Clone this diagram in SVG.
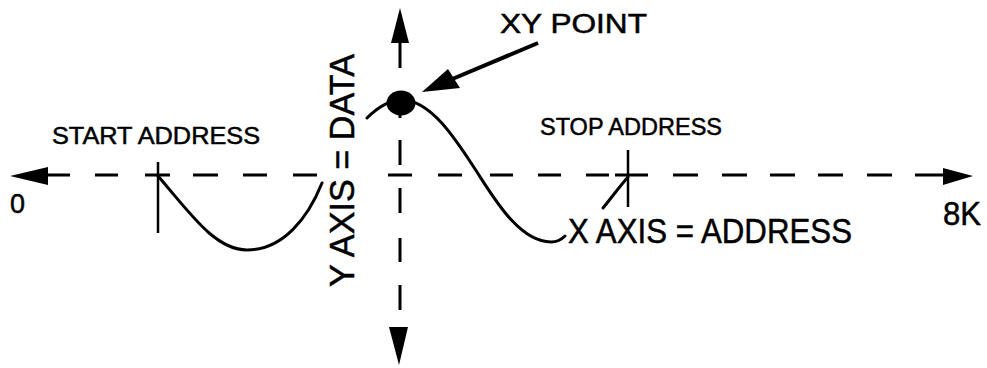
<svg xmlns="http://www.w3.org/2000/svg" width="987" height="368" viewBox="0 0 987 368">
<style>
.t{font-family:"Liberation Sans",Arial,sans-serif;fill:#000;stroke:#000;stroke-width:0.5}
.ax{stroke:#000;stroke-width:3;fill:none}
.cv{stroke:#000;stroke-width:3;fill:none;stroke-linecap:round}
.tk{stroke:#000;stroke-width:2.5;fill:none}
</style>
<rect width="987" height="368" fill="#fff"/>
<g id="connectors">
  <g id="x-axis" class="ax">
    <path d="M40,175H70M95,175H118M145,175H170M193,175H218M243,175H267M293,175H317M388,175H412M438,175H462M490,175H513M538,175H561M586,175H609M615,175H648M673,175H698M722,175H747M770,175H795M818,175H843M867,175H892M915,175H945"/>
  </g>
  <polygon points="10,176 48,167 48,185" fill="#000"/>
  <polygon points="973,176 943,168 943,185" fill="#000"/>
  <g id="y-axis" class="ax">
    <path d="M400,40V68M400,112V118M400,140V165M400,188V213M400,238V262M400,285V310"/>
  </g>
  <polygon points="400,8 391,43 409,43" fill="#000"/>
  <polygon points="399,365 389,327 408,327" fill="#000"/>
  <g id="xy-pointer">
    <line x1="538" y1="43" x2="450" y2="80" stroke="#000" stroke-width="4"/>
    <polygon points="422,92 448,69 460,88" fill="#000"/>
  </g>
</g>
<g id="start-address">
  <line class="tk" x1="158" y1="162" x2="158" y2="233"/>
  <text class="t" x="52" y="144" font-size="24" textLength="208" lengthAdjust="spacingAndGlyphs">START ADDRESS</text>
</g>
<g id="stop-address">
  <line class="tk" x1="628" y1="150" x2="628" y2="207"/>
  <path class="cv" d="M603,208 C612,197 620,186 628,177"/>
  <text class="t" x="540" y="135" font-size="24" textLength="182" lengthAdjust="spacingAndGlyphs">STOP ADDRESS</text>
</g>
<g id="left-curve">
  <path class="cv" d="M158,176 C190,213 215,250 247,250 C283,250 308,218 322,183"/>
</g>
<g id="main-curve">
  <path class="cv" d="M367,118 C378,107 389,100 402,100 C432,100 458,143 477,172 C495,200 520,242 551,242 C557,242 561,240 565,236"/>
</g>
<g id="xy-point">
  <ellipse cx="401" cy="103" rx="14.5" ry="12.5" fill="#000"/>
  <text class="t" x="500" y="33" font-size="27" textLength="147" lengthAdjust="spacingAndGlyphs">XY POINT</text>
</g>
<g id="y-label">
  <text class="t" transform="translate(354,287) rotate(-90)" font-size="35" textLength="233" lengthAdjust="spacingAndGlyphs">Y AXIS = DATA</text>
</g>
<g id="x-label">
  <text class="t" x="568" y="243" font-size="35" textLength="284" lengthAdjust="spacingAndGlyphs">X AXIS = ADDRESS</text>
</g>
<g id="labels">
  <text class="t" x="10" y="213" font-size="28" textLength="15" lengthAdjust="spacingAndGlyphs">0</text>
  <text class="t" x="943" y="225" font-size="34" textLength="38" lengthAdjust="spacingAndGlyphs">8K</text>
</g>
</svg>
